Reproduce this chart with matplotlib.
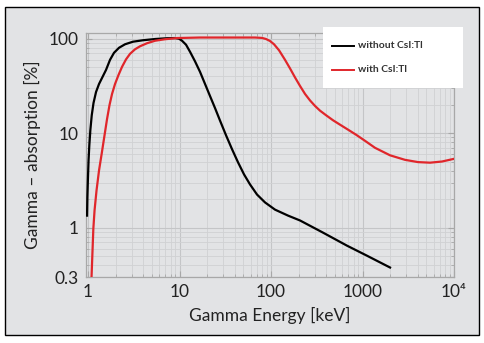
import matplotlib
matplotlib.use('Agg')
import matplotlib.pyplot as plt
from matplotlib.patches import Rectangle
from matplotlib.lines import Line2D
from matplotlib.ticker import FixedLocator, LogLocator, NullFormatter

plt.rcParams['font.family'] = ['Lato', 'DejaVu Sans']

# without CsI:Tl (black)
e_without = [0.975, 0.983, 1.0, 1.013, 1.033, 1.06, 1.098, 1.148, 1.223, 1.319, 1.44, 1.573,
             1.739, 1.923, 2.18, 2.54, 3.1, 3.99, 5.4, 7.3, 8.93, 9.88,
             10.65, 11.78, 13.03, 14.77, 16.75, 19.0, 21.55, 24.4, 27.7, 32.2, 37.5, 43.6,
             50.7, 58.9, 70.3, 85.9, 110.6, 153.5, 207.6, 370, 677, 1120, 2000]
abs_without = [1.34, 2.09, 3.57, 5.16, 7.45, 10.8, 15.5, 20.9, 27.3, 33.2, 39.4, 46.8,
               59.8, 71.0, 80.2, 87.4, 93.0, 96.4, 99.3, 101.2, 101.7, 100,
               95.2, 86.4, 72.7, 57.6, 44.6, 33.2, 24.7, 18.5, 13.6, 9.52, 6.76, 4.91,
               3.66, 2.87, 2.24, 1.85, 1.55, 1.34, 1.19, 0.885, 0.644, 0.504, 0.378]

# with CsI:Tl (red)
e_with = [1.092, 1.114, 1.143, 1.178, 1.238, 1.319, 1.412, 1.515, 1.613, 1.718, 1.829,
          1.973, 2.155, 2.353, 2.602, 2.877, 3.263, 3.7, 4.41, 5.4, 6.94, 9.4,
          16.7, 40, 66.8, 79.8, 88.2, 97.5, 107.8, 122.3, 142.2, 161.3, 183, 207.6,
          235.5, 267, 303, 343.5, 399, 476, 568, 694, 849, 1065, 1370, 2000, 2913,
          4045, 5470, 7390, 10000]
abs_with = [0.3, 0.504, 0.976, 1.52, 2.47, 4.04, 6.12, 9.52, 14.1, 19.9, 26.0,
            33.2, 41.4, 50.4, 60.5, 69.2, 77.3, 83.2, 89.6, 95.2, 98.8, 101.7,
            103, 103, 103, 102, 99.3, 94.6, 87.4, 75.5, 59.8, 48.5, 38.9, 31.6,
            26.0, 22.2, 19.4, 17.3, 15.5, 13.7, 12.3, 10.9, 9.64, 8.3, 7.0, 5.83, 5.22,
            4.94, 4.87, 5.01, 5.35]

x_ticks = [1, 10, 100, 1000, 10000]
x_tick_labels = ['1', '10', '100', '1000', '10⁴']
y_ticks = [0.3, 1, 10, 100]
y_tick_labels = ['0.3', '1', '10', '100']

bg = '#e2e3e5'
fig = plt.figure(figsize=(4.85, 3.43), dpi=100)
fig.patch.set_facecolor('white')

# outer framed panel
fig.add_artist(Rectangle((5 / 485, 8 / 343), 474 / 485, 328 / 343, transform=fig.transFigure,
                         facecolor=bg, edgecolor='black', linewidth=1, zorder=0))

ax = fig.add_axes([86 / 485, 66 / 343, 368 / 485, 244 / 343])
ax.set_facecolor(bg)
ax.set_xscale('log')
ax.set_yscale('log')
ax.set_xlim(0.95, 10000)
ax.set_ylim(0.3, 115)

ax.plot(e_without, abs_without, color='black', lw=1.6, zorder=3)
ax.plot(e_with, abs_with, color='#e0262b', lw=1.6, zorder=3)

ax.xaxis.set_major_locator(FixedLocator(x_ticks))
ax.set_xticklabels(x_tick_labels)
ax.yaxis.set_major_locator(FixedLocator(y_ticks))
ax.set_yticklabels(y_tick_labels)
ax.xaxis.set_minor_locator(LogLocator(base=10, subs=range(2, 10)))
ax.yaxis.set_minor_locator(LogLocator(base=10, subs=range(2, 10)))
ax.xaxis.set_minor_formatter(NullFormatter())
ax.yaxis.set_minor_formatter(NullFormatter())

ax.grid(which='major', color='#c4c5c7', lw=0.8)
ax.grid(which='minor', color='#d0d1d3', lw=0.6)
ax.set_axisbelow(True)

for s in ax.spines.values():
    s.set_color('#a8a8a8')
    s.set_linewidth(0.9)
ax.tick_params(which='both', direction='in', top=True, right=True, colors='#a8a8a8',
               labelcolor='#222222', labelsize=12.5)
ax.tick_params(which='major', length=4, pad=5)
ax.tick_params(which='minor', length=2.5)

ax.set_xlabel('Gamma Energy [keV]', fontsize=12.5, color='#222222', labelpad=5)
ax.set_ylabel('Gamma – absorption [%]', fontsize=12.5, color='#222222', labelpad=6)

# legend box
fig.add_artist(Rectangle((323 / 485, 1 - 88 / 343), 140 / 485, 61 / 343, transform=fig.transFigure,
                         facecolor='white', edgecolor='none', zorder=5))
for yy, c, lab in [(46, 'black', 'without CsI:Tl'), (70, '#e0262b', 'with CsI:Tl')]:
    fig.add_artist(Line2D([332 / 485, 354 / 485], [1 - yy / 343, 1 - yy / 343],
                          transform=fig.transFigure, color=c, lw=1.4, zorder=6))
    fig.text(358 / 485, 1 - yy / 343, lab, fontsize=7.5, fontweight='bold', color='#333333',
             va='center', ha='left', zorder=6)

fig.savefig('out.png', dpi=100, facecolor=fig.get_facecolor())
